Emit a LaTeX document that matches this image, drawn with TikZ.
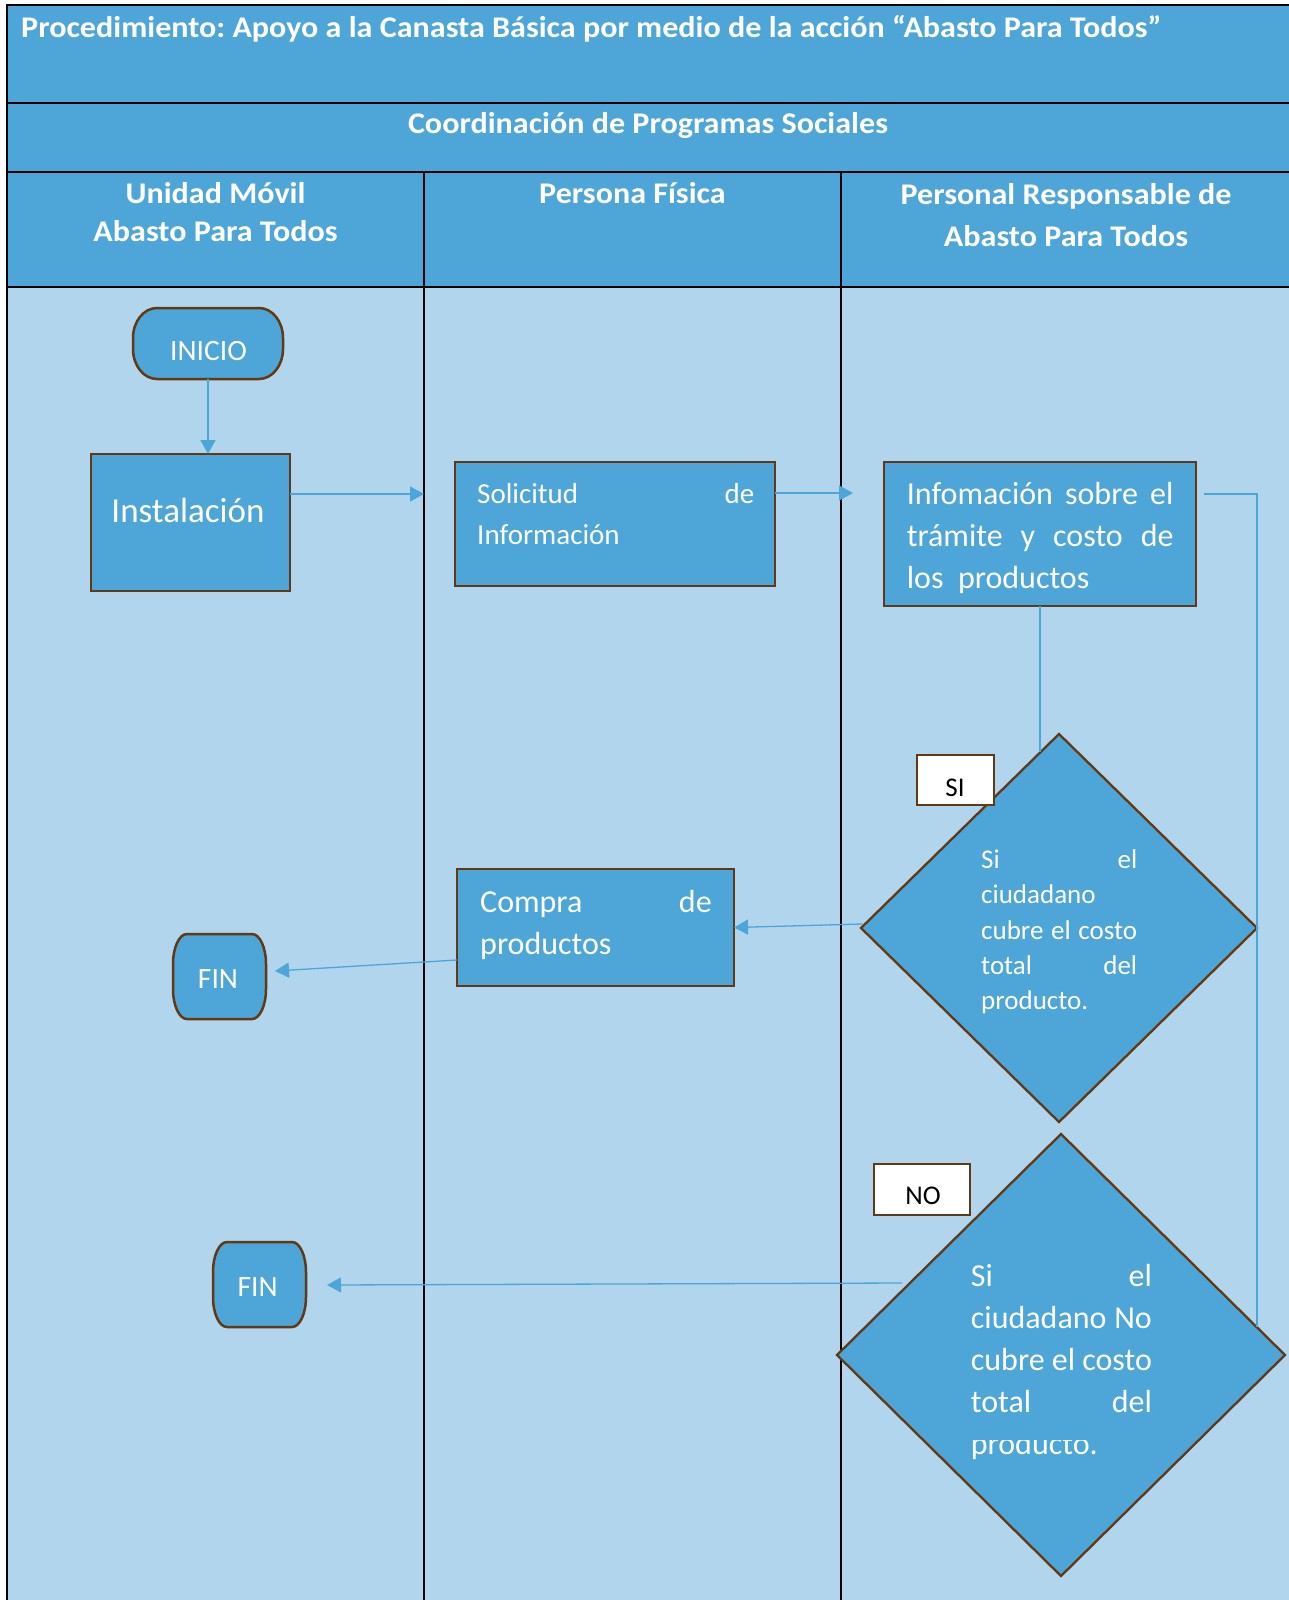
\documentclass[tikz,border=0pt]{standalone}
\usepackage{fontspec}
\setmainfont{Carlito}
\newfontfamily\hdfont[FakeStretch=1.07]{Carlito}
\frenchspacing
\usetikzlibrary{shapes.geometric,arrows.meta,calc}
\definecolor{hdr}{RGB}{78,165,216}
\definecolor{bodyc}{RGB}{176,213,236}
\definecolor{brn}{RGB}{99,56,18}
\definecolor{conn}{RGB}{78,165,216}
\newcommand\fs[2]{\fontsize{#1}{#2}\selectfont}
\newcommand\txtblk[4]{\parbox[t]{#1}{\fontsize{#2}{#3}\selectfont #4}}
\newcommand\jl[1]{\makebox[\linewidth][s]{#1}}
\newcommand\termdraw[3]{%
  \draw[term] ($(#1.north west)+(#2,0)$) -- ($(#1.north east)+(-#2,0)$)
    arc[start angle=90,end angle=0,x radius=#2pt,y radius=#3pt]
    -- ($(#1.south east)+(0,-#3)$)
    arc[start angle=0,end angle=-90,x radius=#2pt,y radius=#3pt]
    -- ($(#1.south west)+(#2,0)$)
    arc[start angle=270,end angle=180,x radius=#2pt,y radius=#3pt]
    -- ($(#1.north west)+(0,#3)$)
    arc[start angle=180,end angle=90,x radius=#2pt,y radius=#3pt] -- cycle;}
\tikzset{
  grid/.style={black,line width=2pt},
  hd/.style={text=white,font=\hdfont\bfseries\fs{30}{36},inner sep=0pt},
  box/.style={rectangle,draw=brn,fill=hdr,line width=2.5pt,inner sep=0pt,outer sep=0pt},
  ghost/.style={rectangle,inner sep=0pt,outer sep=0pt},
  term/.style={draw=brn,fill=hdr,line width=2.5pt},
  dia/.style={diamond,draw=brn,fill=hdr,line width=2.3pt,inner sep=0pt,outer sep=0pt},
  lbl/.style={rectangle,draw=brn,fill=white,line width=2.5pt,inner sep=0pt,outer sep=0pt},
  txt/.style={text=white,inner sep=0pt,anchor=base west},
  conn/.style={draw=conn,line width=1.3pt},
  arr/.style={conn,-{Triangle[width=15pt,length=14pt]}}
}
\begin{document}
\begin{tikzpicture}[x=1pt,y=-1pt]
\useasboundingbox (0,0) rectangle (1289,1600);
\fill[white] (0,0) rectangle (1289,1600);
\fill[hdr] (6.5,5) rectangle (1289,287);
\fill[bodyc] (6.5,287) rectangle (1289,1600);
\draw[grid] (6.5,1600) -- (6.5,5) -- (1289,5);
\draw[grid] (6.5,103) -- (1289,103);
\draw[grid] (6.5,171.5) -- (1289,171.5);
\draw[grid] (6.5,287) -- (1289,287);
\draw[grid] (424,171.5) -- (424,1600);
\draw[grid] (841,171.5) -- (841,1600);

% headers
\node[hd,anchor=base west] (title) at (21,38) {Procedimiento: Apoyo a la Canasta Básica por medio de la acción “Abasto Para Todos”};
\node[hd,anchor=base] (coord) at (648,134) {Coordinación de Programas Sociales};
\node[hd,anchor=base] (h1a) at (215.5,203) {Unidad Móvil};
\node[hd,anchor=base] (h1b) at (215.5,241.7) {Abasto Para Todos};
\node[hd,anchor=base] (h2) at (632.5,203) {Persona Física};
\node[hd,anchor=base] (h3a) at (1066,204) {Personal Responsable de};
\node[hd,anchor=base] (h3b) at (1066,246.5) {Abasto Para Todos};

% shapes
\node[ghost,minimum width=150pt,minimum height=71pt] (inicio) at (208,343.5) {};
\termdraw{inicio}{24}{30}
\node[ghost,minimum width=93pt,minimum height=85pt] (fin1) at (219.5,976.5) {};
\termdraw{fin1}{14}{30}
\node[ghost,minimum width=93pt,minimum height=85pt] (fin2) at (259.5,1284.5) {};
\termdraw{fin2}{14}{30}

\node[box,minimum width=199pt,minimum height=137pt] (inst) at (190.5,522.5) {};
\node[box,minimum width=320pt,minimum height=124pt] (sol) at (615,524) {};
\node[box,minimum width=312pt,minimum height=144pt] (info) at (1040,534) {};
\node[box,minimum width=277pt,minimum height=117pt] (compra) at (595.5,927.5) {};

\node[dia,minimum width=396pt,minimum height=388pt] (sidiam) at (1059,928) {};
\node[dia,minimum width=448pt,minimum height=442pt] (nodiam) at (1061,1355) {};

\node[lbl,minimum width=77pt,minimum height=50pt] (silbl) at (955.5,780) {};
\node[lbl,minimum width=96pt,minimum height=51pt] (nolbl) at (922,1189.5) {};

% connectors
\coordinate (a1) at (424,494);
\coordinate (a2) at (853,493);
\coordinate (a3) at (1204,494);
\coordinate (a4) at (275,971);
\coordinate (a5) at (327,1285);
\coordinate (a6) at (902,1283);
\draw[arr] (inicio.south) -- (inicio.south |- inst.north);
\draw[arr] ($(inst.north east)+(0,40)$) -- (a1);
\draw[arr] ($(sol.north east)+(0,31)$) -- (a2);
\draw[conn] (a3) -| (nodiam.8.5);
\draw[conn] (info.south) -- (info.south |- sidiam.96);
\draw[arr] ($(sidiam.west)+(1,-4)$) -- (compra.east);
\draw[arr] ($(compra.south west)+(0,-26)$) -- (a4);
\draw[arr] (a6) -- (a5);

% texts
\node[txt,anchor=base] (inicio-t) at (208.5,360.3) {\fs{29.5}{34}INICIO};
\node[txt,anchor=base] (inst-t) at (188,522.5) {\fs{35}{40}Instalación};
\node[txt] (sol-t) at (477,503.7) {\txtblk{277pt}{29}{40.6}{\jl{Solicitud de}\\Información}};
\node[txt] (info-t) at (906.7,504.3) {\txtblk{266.6pt}{32}{42.2}{\jl{Infomación sobre el}\\\jl{trámite y costo de}\\los~~productos}};
\node[txt] (compra-t) at (480,912) {\txtblk{231.5pt}{32}{42.2}{\jl{Compra de}\\productos}};
\node[txt] (si-t) at (981,868.7) {\txtblk{156pt}{27}{35.2}{\jl{Si el}\\ciudadano\\\jl{cubre el costo}\\\jl{total del}\\producto.}};
\node[txt] (no-t) at (970.7,1286.7) {\txtblk{181pt}{32}{41.9}{\jl{Si el}\\\jl{ciudadano No}\\\jl{cubre el costo}\\\jl{total del}}};
\begin{scope}
\clip (900,1440) rectangle (1200,1480);
\node[txt] (no-t5) at (970.7,1454.3) {\fs{32}{42}producto.};
\end{scope}
\node[txt,anchor=base] (fin1-t) at (218,988) {\fs{29.5}{34}FIN};
\node[txt,anchor=base] (fin2-t) at (257.7,1296.3) {\fs{29.5}{34}FIN};
\node[inner sep=0pt,anchor=base,text=black] (si-lt) at (955,796) {\fs{27}{32}SI};
\node[inner sep=0pt,anchor=base,text=black] (no-lt) at (923,1204.3) {\fs{27}{32}NO};
\end{tikzpicture}
\end{document}
